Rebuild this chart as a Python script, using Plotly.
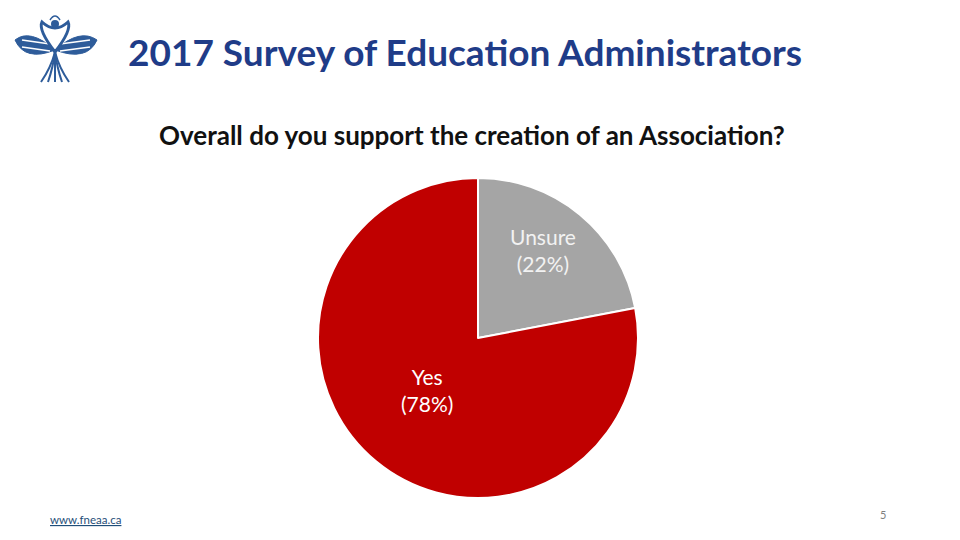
import plotly.graph_objects as go

categories = ["Unsure", "Yes"]
values = [22, 78]
colors = ["#A5A5A5", "#C00000"]

title_text = "2017 Survey of Education Administrators"
subtitle_text = "Overall do you support the creation of an Association?"
footer_url = "www.fneaa.ca"
page_number = "5"

# page is offset 8px by the browser's body margin
OFF = 8
W, H = 960 - OFF, 540 - OFF

def px(x):
    return (x - OFF) / W

def py(y):
    return 1 - (y - OFF) / H

fig = go.Figure()
fig.add_trace(go.Pie(
    labels=categories,
    values=values,
    sort=False,
    direction="clockwise",
    rotation=0,
    marker=dict(colors=colors, line=dict(color="white", width=2)),
    textinfo="none",
    hoverinfo="label+percent",
    showlegend=False,
    domain=dict(x=[px(318), px(638)], y=[py(498), py(178)]),
))

font_family = "Lato, 'Open Sans', sans-serif"

annotations = [
    dict(x=px(465), y=py(52), text=f"<b>{title_text}</b>", showarrow=False,
         font=dict(family=font_family, size=37, color="#1F3C88"), xanchor="center", yanchor="middle"),
    dict(x=px(472), y=py(135), text=f"<b>{subtitle_text}</b>", showarrow=False,
         font=dict(family=font_family, size=26, color="#111111"), xanchor="center", yanchor="middle"),
    dict(x=px(543), y=py(250), text=f"{categories[0]}<br>({values[0]}%)", showarrow=False,
         font=dict(family=font_family, size=21, color="#F2F2F2"), xanchor="center", yanchor="middle"),
    dict(x=px(427), y=py(390), text=f"{categories[1]}<br>({values[1]}%)", showarrow=False,
         font=dict(family=font_family, size=21, color="#FFFFFF"), xanchor="center", yanchor="middle"),
    dict(x=px(85), y=py(519), text=f"<u>{footer_url}</u>", showarrow=False,
         font=dict(family=font_family, size=11.5, color="#1F4E79"), xanchor="center", yanchor="middle"),
    dict(x=px(883), y=py(514), text=page_number, showarrow=False,
         font=dict(family=font_family, size=11, color="#7F7F7F"), xanchor="center", yanchor="middle"),
]

# Simple lotus-style logo approximation (decorative)
logo_color = "#2E5C9A"

def qpath(pts, close=True):
    (x0, y0) = pts[0]
    s = f"M {px(x0)},{py(y0)}"
    rest = pts[1:]
    for i in range(0, len(rest), 2):
        (cx, cy), (ex, ey) = rest[i], rest[i + 1]
        s += f" Q {px(cx)},{py(cy)} {px(ex)},{py(ey)}"
    return s + (" Z" if close else "")

shapes = []
# wings
shapes.append(dict(type="path", xref="paper", yref="paper",
                   path=qpath([(55, 50), (30, 28), (15, 40), (25, 62), (55, 50)]),
                   fillcolor=logo_color, line=dict(color=logo_color, width=1)))
shapes.append(dict(type="path", xref="paper", yref="paper",
                   path=qpath([(55, 50), (80, 28), (97, 40), (87, 62), (55, 50)]),
                   fillcolor=logo_color, line=dict(color=logo_color, width=1)))
# white feather lines across wings
for dy in (40, 47, 54):
    shapes.append(dict(type="line", xref="paper", yref="paper",
                       x0=px(22), y0=py(dy), x1=px(50), y1=py(dy + 4),
                       line=dict(color="white", width=1.5)))
    shapes.append(dict(type="line", xref="paper", yref="paper",
                       x0=px(90), y0=py(dy), x1=px(60), y1=py(dy + 4),
                       line=dict(color="white", width=1.5)))
# central bud
shapes.append(dict(type="path", xref="paper", yref="paper",
                   path=qpath([(55, 52), (38, 30), (42, 22), (55, 34), (68, 22), (72, 30), (55, 52)]),
                   fillcolor="rgba(0,0,0,0)", line=dict(color=logo_color, width=3)))
shapes.append(dict(type="circle", xref="paper", yref="paper",
                   x0=px(51), x1=px(59), y0=py(28), y1=py(20), fillcolor=logo_color, line=dict(width=0)))
shapes.append(dict(type="path", xref="paper", yref="paper",
                   path=qpath([(50, 20), (55, 12), (60, 20)], close=False),
                   line=dict(color=logo_color, width=1.5)))
# roots
for dx in (-14, -7, 0, 7, 14):
    shapes.append(dict(type="path", xref="paper", yref="paper",
                       path=qpath([(55, 52), (55 + dx * 0.3, 68), (55 + dx, 82)], close=False),
                       line=dict(color=logo_color, width=2)))

fig.update_layout(
    width=W, height=H,
    margin=dict(l=0, r=0, t=0, b=0),
    paper_bgcolor="white",
    plot_bgcolor="white",
    annotations=annotations,
    shapes=shapes,
)

fig.write_html("out.html")
